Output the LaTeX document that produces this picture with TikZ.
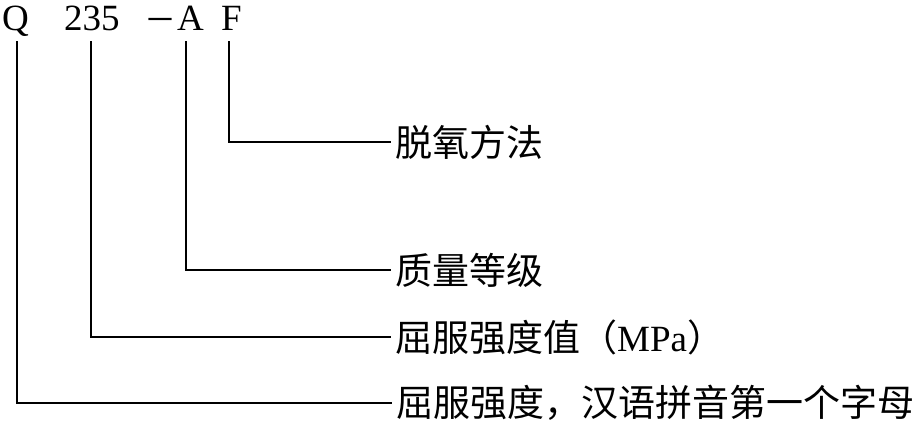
\documentclass[tikz,border=0pt]{standalone}
\usepackage{fontspec}
\setmainfont{Liberation Serif}
\newfontfamily\cjk{Noto Sans CJK SC}
\begin{document}
\begin{tikzpicture}[x=1pt,y=1pt,
  code/.style={font=\fontsize{37}{42}\selectfont, inner sep=0pt, anchor=base west},
  lab/.style={font=\fontsize{37}{42}\selectfont\cjk, inner sep=0pt, anchor=west},
  conn/.style={line width=1.9pt}]
\useasboundingbox (0,0) rectangle (917,-421);
% code letters
\node[code] (Q) at (2,-30) {Q};
\node[code] (num) at (64,-30) {235};
\node[code, font=\fontsize{32}{36}\selectfont\cjk] (dash) at (144,-31) {－};
\node[code] (A) at (177,-30) {A};
\node[code] (F) at (221,-30) {F};
% labels
\node[lab] (l1) at (395,-142) {脱氧方法};
\node[lab] (l2) at (395,-270) {质量等级};
\node[lab] (l3) at (395,-337) {屈服强度值（{\rmfamily MPa}）};
\node[lab] (l4) at (396,-403) {屈服强度，汉语拼音第一个字母};
% line tops
\coordinate (qt) at (17,-41);
\coordinate (nt) at (91,-41);
\coordinate (at) at (186,-41);
\coordinate (ft) at (229,-41);
% connectors
\draw[conn] (ft) |- ([xshift=-4pt]l1.west);
\draw[conn] (at) |- ([xshift=-4pt]l2.west);
\draw[conn] (nt) |- ([xshift=-4pt]l3.west);
\draw[conn] (qt) |- ([xshift=-4pt]l4.west);
\end{tikzpicture}
\end{document}
